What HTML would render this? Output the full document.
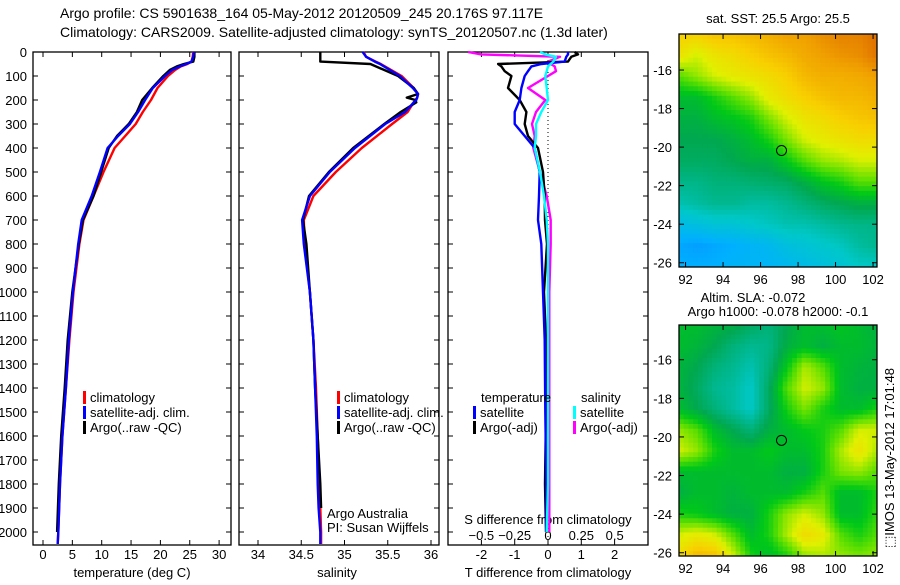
<!DOCTYPE html>
<html><head><meta charset="utf-8"><style>
body{margin:0;background:#fff}
svg text{font-family:"Liberation Sans",sans-serif;font-size:13px;fill:#000}
</style></head><body>
<svg id="fig" width="900" height="580" xmlns="http://www.w3.org/2000/svg">
<text x="60" y="18" style="font-size:14px">Argo profile: CS 5901638_164 05-May-2012 20120509_245 20.176S 97.117E</text>
<text x="60" y="37" style="font-size:14px">Climatology: CARS2009. Satellite-adjusted climatology: synTS_20120507.nc (1.3d later)</text>
<g id="g"></g>
</svg>
<script>
// ---- data ----
const depthT=[0,20,40,50,60,75,100,150,200,250,300,350,400,500,600,700,800,1000,1200,1400,1600,1800,2000,2050];
const tempClim=[25.6,25.5,25.3,24.6,23.5,22.5,21.3,19.5,18.4,17.0,15.8,14.0,12.2,10.3,8.6,6.9,6.2,5.2,4.5,3.9,3.3,2.9,2.6,2.5];
const tempSat=[25.7,25.6,25.3,24.4,23.3,22.0,20.8,18.7,17.4,16.2,14.8,12.8,11.0,9.7,8.3,6.6,6.0,5.1,4.4,3.9,3.3,2.9,2.6,2.5];
const tempArgo=[25.8,25.8,25.6,24.0,22.8,21.6,20.5,18.6,16.9,16.0,14.6,12.6,11.2,9.9,8.6,6.8,6.1,5.0,4.2,3.7,3.1,2.7,2.4,null];
const depthS=[0,20,40,50,100,150,175,190,200,210,250,300,400,500,600,700,800,1000,1200,1400,1600,1800,1900,2000,2050];
const salClim=[35.22,35.25,35.36,35.42,35.66,35.8,35.85,35.84,35.82,35.8,35.73,35.55,35.2,34.9,34.64,34.53,34.54,34.6,34.64,34.67,34.69,34.71,34.72,34.73,34.73];
const salSat=[35.21,35.25,35.35,35.41,35.64,35.79,35.85,35.84,35.83,35.8,35.7,35.47,35.12,34.83,34.6,34.51,34.53,34.6,34.64,34.66,34.68,34.69,34.7,34.72,34.72];
const salArgo=[34.72,34.72,34.72,35.3,35.62,35.8,35.85,35.72,35.82,35.83,35.65,35.46,35.1,34.82,34.59,34.52,34.56,34.6,34.64,34.66,34.69,34.72,34.73,null,null];
const depthD=[0,10,20,40,50,60,80,100,150,200,250,300,350,400,500,600,700,800,1000,1200,1500,1800,2000];
const dTsat=[0.6,0.6,0.55,0.5,-0.2,-0.5,-0.6,-0.7,-0.8,-0.85,-1.0,-1.0,-0.7,-0.4,-0.25,-0.27,-0.3,-0.2,-0.15,-0.1,-0.08,-0.05,-0.05];
const dTargo=[0.8,0.9,0.7,0.6,-1.5,-1.4,-1.3,-1.1,-1.2,-0.85,-0.65,-0.7,-0.6,-0.3,-0.15,-0.1,-0.09,-0.03,-0.12,-0.06,-0.06,-0.09,-0.06];
const dSsat=[-0.06,-0.02,0.06,0.04,0.02,0.0,-0.01,-0.02,-0.01,0.0,-0.05,-0.09,-0.09,-0.1,-0.06,-0.03,-0.01,0.0,0.0,0.0,0.0,0.0,-0.01];
const dSargo=[-0.6,-0.5,0.09,0.0,0.02,0.05,0.06,0.0,-0.15,-0.02,-0.09,-0.12,-0.1,-0.11,-0.06,-0.01,0.02,0.02,0.01,0.01,0.01,0.01,0.01];
const depthTicks=[0,100,200,300,400,500,600,700,800,900,1000,1100,1200,1300,1400,1500,1600,1700,1800,1900,2000];
const tempTicks=[0,5,10,15,20,25,30];
const salTicks=[34,34.5,35,35.5,36];
const salTickLabels=['34','34.5','35','35.5','36'];
const dTTicks=[-2,-1,0,1,2];
const dSTicks=[-0.5,-0.25,0,0.25,0.5];
const lonTicks=[92,94,96,98,100,102];
const latTicks=[-16,-18,-20,-22,-24,-26];
const argoLon=97.117, argoLat=-20.176;
const sstGrid=[
[.75,.75,.78,.78,.8,.82,.85,.85,.88,.9,.9,.93],
[.7,.65,.7,.72,.75,.78,.8,.83,.85,.87,.88,.92],
[.55,.6,.65,.68,.7,.72,.75,.8,.82,.82,.83,.85],
[.45,.45,.5,.55,.6,.68,.72,.75,.78,.8,.8,.82],
[.42,.42,.45,.47,.5,.58,.65,.7,.72,.75,.77,.78],
[.4,.4,.4,.42,.45,.5,.58,.65,.68,.7,.72,.72],
[.38,.38,.38,.4,.42,.42,.48,.55,.6,.62,.65,.65],
[.33,.33,.35,.35,.36,.37,.38,.42,.47,.5,.55,.55],
[.28,.3,.32,.32,.3,.3,.32,.35,.38,.4,.42,.42],
[.18,.2,.22,.22,.24,.26,.28,.28,.3,.32,.33,.33],
[.1,.08,.1,.12,.14,.16,.2,.22,.24,.26,.3,.32],
[.12,.12,.12,.14,.14,.14,.16,.18,.2,.22,.25,.25]];
const slaGrid=[
[.45,.45,.43,.42,.38,.35,.4,.45,.45,.47,.45,.42],
[.45,.43,.4,.35,.32,.33,.42,.45,.42,.45,.45,.43],
[.43,.4,.35,.32,.28,.35,.48,.62,.55,.45,.43,.42],
[.43,.38,.32,.3,.25,.38,.55,.65,.6,.45,.42,.42],
[.45,.4,.35,.3,.25,.38,.5,.58,.5,.45,.45,.5],
[.6,.55,.45,.4,.35,.42,.45,.48,.5,.55,.65,.65],
[.65,.6,.5,.45,.45,.48,.45,.45,.5,.62,.7,.62],
[.45,.45,.45,.45,.45,.45,.42,.42,.5,.58,.6,.55],
[.42,.45,.45,.43,.45,.45,.45,.5,.55,.45,.45,.5],
[.5,.48,.45,.42,.42,.5,.6,.65,.6,.45,.45,.52],
[.65,.68,.65,.55,.45,.5,.62,.72,.68,.55,.5,.55],
[.72,.8,.78,.65,.5,.45,.5,.6,.62,.6,.58,.6]];

const NS='http://www.w3.org/2000/svg';
const G=document.getElementById('g');
function el(tag,attrs,parent,txt){const e=document.createElementNS(NS,tag);for(const k in attrs)e.setAttribute(k,attrs[k]);if(txt!==undefined)e.textContent=txt;(parent||G).appendChild(e);return e;}
const yD=d=>52+d*0.24;
const PT=[33,231],PS=[239,439],PD=[448,648],TOP=52,BOT=545;
const xT=v=>43+v*5.87, xS=v=>258+(v-34)*86.5, xdT=v=>548+v*33.3, xdS=v=>548+v*133.3;

function frame(x0,x1,name){
  const r=el('rect',{x:x0,y:TOP,width:x1-x0,height:BOT-TOP,fill:'none',stroke:'#000','stroke-width':1.3});
  
  
  depthTicks.forEach(d=>{el('line',{x1:x0,x2:x0+5,y1:yD(d),y2:yD(d),stroke:'#000'});el('line',{x1:x1-5,x2:x1,y1:yD(d),y2:yD(d),stroke:'#000'});});
}
function xticks(vals,f,labels,ly){vals.forEach((v,i)=>{const x=f(v);el('line',{x1:x,x2:x,y1:BOT-5,y2:BOT,stroke:'#000'});el('line',{x1:x,x2:x,y1:TOP,y2:TOP+5,stroke:'#000'});
  if(labels){const t=el('text',{x:x,y:ly,'text-anchor':'middle'},G,labels[i]);}});}
function line(xs,ys,fx,color,name,w){let p=[];for(let i=0;i<xs.length;i++){if(xs[i]===null)continue;p.push(fx(xs[i]).toFixed(1)+','+yD(ys[i]).toFixed(1));}
  const l=el('polyline',{points:p.join(' '),fill:'none',stroke:color,'stroke-width':w||2.4,'stroke-linejoin':'round'});
  
  }
function txt(x,y,s,name,extra){const t=el('text',Object.assign({x:x,y:y},extra||{}),G,s);return t;}
function legendEntry(x,y,color,s){el('rect',{x:x,y:y-11,width:3,height:13,fill:color});txt(x+7,y,s,'legend-entry');}

// panel 1
frame(PT[0],PT[1],'temperature-axes');
depthTicks.forEach(d=>txt(27,yD(d)+5,String(d),'y-tick-label',{'text-anchor':'end'}));
xticks(tempTicks,xT,tempTicks.map(String),559);
txt(132,577,'temperature (deg C)','x-axis-title',{'text-anchor':'middle'});
line(tempClim,depthT,xT,'#ff0000','temp-climatology-line');
line(tempArgo,depthT,xT,'#000000','temp-argo-line');
line(tempSat,depthT,xT,'#0000ff','temp-satellite-line');
legendEntry(83,402,'#ff0000','climatology');legendEntry(83,417,'#0000ff','satellite-adj. clim.');legendEntry(83,432,'#000','Argo(..raw -QC)');

// panel 2
frame(PS[0],PS[1],'salinity-axes');
xticks(salTicks,xS,salTickLabels,559);
txt(337,577,'salinity','x-axis-title',{'text-anchor':'middle'});
line(salClim,depthS,xS,'#ff0000','sal-climatology-line');
line(salArgo,depthS,xS,'#000000','sal-argo-line');
line(salSat,depthS,xS,'#0000ff','sal-satellite-line');
legendEntry(337,402,'#ff0000','climatology');legendEntry(337,417,'#0000ff','satellite-adj. clim.');legendEntry(337,432,'#000','Argo(..raw -QC)');
txt(327,518,'Argo Australia','credit-line-1');txt(327,532,'PI: Susan Wijffels','credit-line-2');

// panel 3
frame(PD[0],PD[1],'difference-axes');
el('line',{x1:548,x2:548,y1:TOP,y2:BOT,stroke:'#000','stroke-dasharray':'1,3'});
xticks(dTTicks,xdT,dTTicks.map(String),559);
dSTicks.forEach(v=>txt(xdS(v),540,String(v).replace('-','\u2212'),'s-tick-label',{'text-anchor':'middle'}));
txt(548,524,'S difference from climatology','s-axis-title',{'text-anchor':'middle'});
txt(548,577,'T difference from climatology','x-axis-title',{'text-anchor':'middle'});
line(dSargo,depthD,xdS,'#ff00ff','s-argo-diff-line');
line(dTargo,depthD,xdT,'#000000','t-argo-diff-line');
line(dTsat,depthD,xdT,'#0000ff','t-satellite-diff-line');
line(dSsat,depthD,xdS,'#00ffff','s-satellite-diff-line');
txt(481,402,'temperature','legend-header');txt(581,402,'salinity','legend-header');
legendEntry(473,417,'#0000ff','satellite');legendEntry(473,432,'#000','Argo(-adj)');
legendEntry(573,417,'#00ffff','satellite');legendEntry(573,432,'#ff00ff','Argo(-adj)');

// maps
const cstops=[[0,[10,124,255]],[.12,[0,176,255]],[.25,[0,200,200]],[.32,[0,184,144]],[.4,[0,168,80]],[.48,[0,200,24]],[.56,[96,224,0]],[.66,[224,240,0]],[.75,[248,208,0]],[.85,[240,160,0]],[.93,[224,112,0]],[1,[176,32,0]]];
function cmap(t){t=Math.max(0,Math.min(1,t));for(let i=1;i<cstops.length;i++){if(t<=cstops[i][0]){const a=cstops[i-1],b=cstops[i],f=(t-a[0])/(b[0]-a[0]);const c=a[1].map((v,k)=>Math.round(v+(b[1][k]-v)*f));return 'rgb('+c.join(',')+')';}}return 'rgb(176,32,0)';}
function bil(grid,u,v){const R=grid.length-1,C=grid[0].length-1;const y=v*R,x=u*C;const i=Math.min(Math.floor(y),R-1),j=Math.min(Math.floor(x),C-1);const fy=y-i,fx=x-j;
  return grid[i][j]*(1-fx)*(1-fy)+grid[i][j+1]*fx*(1-fy)+grid[i+1][j]*(1-fx)*fy+grid[i+1][j+1]*fx*fy;}
function map(y0,y1,grid,name,cols,rows,latTop,latPerPx){
  const x0=679,x1=877,lonL=91.65,pxLon=18.75;
  const g=el('g',{});
  
  
  const cw=(x1-x0)/cols,ch=(y1-y0)/rows;
  for(let r=0;r<rows;r++)for(let c=0;c<cols;c++){
    el('rect',{x:(x0+c*cw).toFixed(2),y:(y0+r*ch).toFixed(2),width:(cw+0.5).toFixed(2),height:(ch+0.5).toFixed(2),fill:cmap(bil(grid,(c+0.5)/cols,(r+0.5)/rows))},g);}
  el('rect',{x:x0,y:y0,width:x1-x0,height:y1-y0,fill:'none',stroke:'#000','stroke-width':1.3});
  const fx=lon=>x0+(lon-lonL)*pxLon, fy=lat=>y0+(latTop-lat)*latPerPx;
  lonTicks.forEach(l=>{const x=fx(l);el('line',{x1:x,x2:x,y1:y0,y2:y0+5,stroke:'#000'});el('line',{x1:x,x2:x,y1:y1-5,y2:y1,stroke:'#000'});txt(x,y1+17,String(l),'map-x-tick-label',{'text-anchor':'middle'});});
  latTicks.forEach(l=>{const y=fy(l);el('line',{x1:x0,x2:x0+5,y1:y,y2:y,stroke:'#000'});el('line',{x1:x1-5,x2:x1,y1:y,y2:y,stroke:'#000'});txt(672,y+5,String(l),'map-y-tick-label',{'text-anchor':'end'});});
  const m=el('circle',{cx:fx(argoLon),cy:fy(argoLat),r:5,fill:'none',stroke:'#000','stroke-width':1});
  
  
}
map(34,267,sstGrid,'sst-map',42,49,-14.13,19.27);
map(325,556,slaGrid,'sla-map',42,49,-14.2,19.3);
txt(778,23,'sat. SST: 25.5 Argo: 25.5','sst-map-title',{'text-anchor':'middle'});
txt(753,302,'Altim. SLA: -0.072','sla-map-title',{'text-anchor':'middle'});
txt(778,316,'Argo h1000: -0.078 h2000: -0.1','sla-map-subtitle',{'text-anchor':'middle'});
txt(0,0,'\u2B1AIMOS 13-May-2012 17:01:48','timestamp',{transform:'translate(894,548) rotate(-90)'});
</script>
</body></html>
